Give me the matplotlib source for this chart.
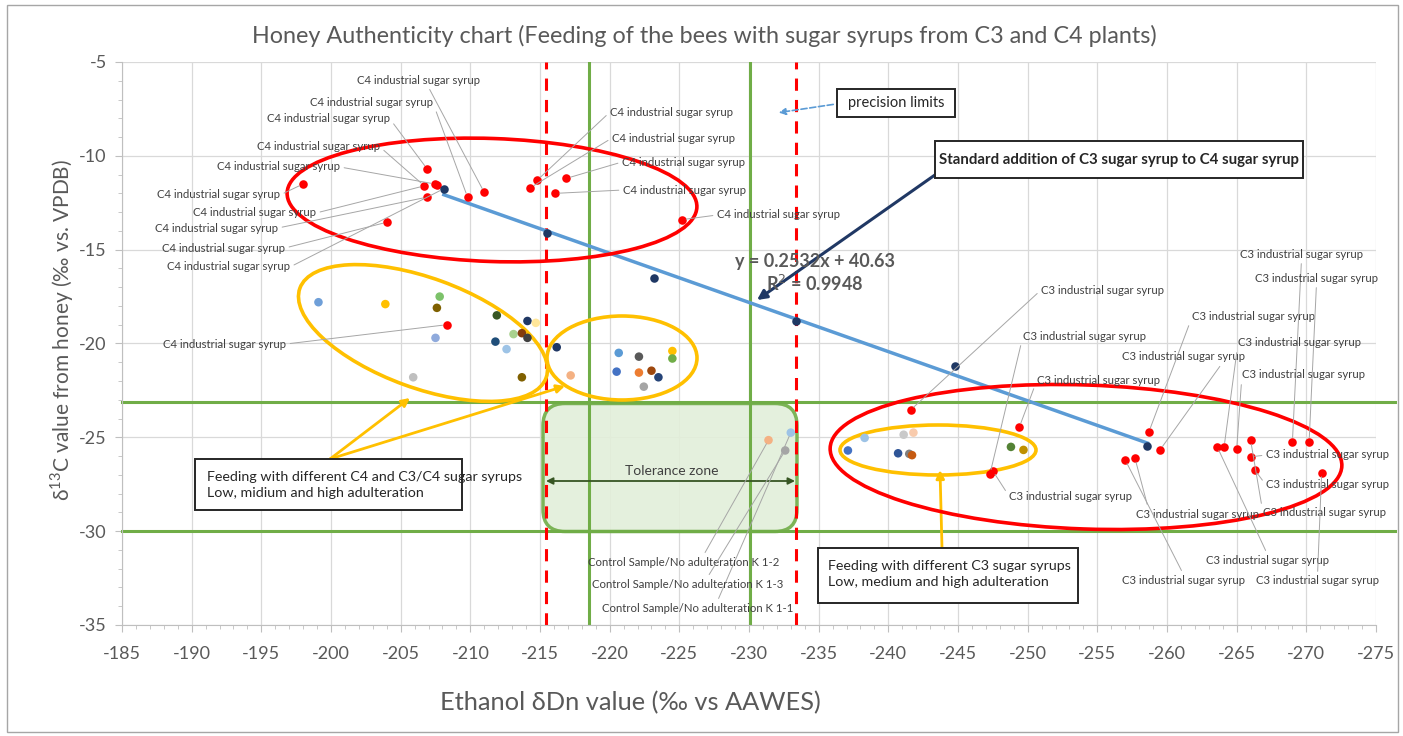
import numpy as np
import matplotlib
matplotlib.use("Agg")
import matplotlib.pyplot as plt
from matplotlib.patches import Ellipse, FancyBboxPatch, Rectangle
from matplotlib import transforms

plt.rcParams['font.family'] = ['Lato', 'DejaVu Sans']
plt.rcParams['axes.unicode_minus'] = False

# ---------------- data ----------------
# C4 industrial sugar syrups (red)
c4_x = [-198.0, -204.0, -206.9, -206.7, -206.9, -207.45, -207.6, -209.8, -211.0,
        -214.3, -214.8, -216.1, -216.9, -225.2, -208.3]
c4_y = [-11.5, -13.54, -10.7, -11.6, -12.2, -11.5, -11.55, -12.2, -11.95,
        -11.7, -11.3, -12.0, -11.2, -13.4, -19.0]

# standard addition series (navy) used for the regression line
std_x = [-208.1, -215.5, -223.2, -233.4, -244.8, -258.6]
std_y = [-11.75, -14.1, -16.5, -18.8, -21.2, -25.46]

# feeding with C4 and C3/C4 syrups (multi-coloured)
mix_x = [-199.1, -203.9, -207.8, -207.6, -207.5, -205.9, -211.9, -214.1, -213.1,
         -213.7, -214.1, -211.8, -212.6, -213.7, -214.7, -216.2, -217.2,
         -220.65, -222.1, -224.5, -224.5, -220.5, -222.1, -223.0, -223.5, -222.45]
mix_y = [-17.8, -17.9, -17.5, -18.1, -19.7, -21.8, -18.5, -18.8, -19.5,
         -19.45, -19.7, -19.9, -20.3, -21.8, -18.9, -20.2, -21.7,
         -20.5, -20.7, -20.4, -20.8, -21.5, -21.55, -21.45, -21.8, -22.3]
mix_colors = ['#6f9fd8', '#ffc000', '#7cc26a', '#7f6000', '#8faadc', '#bfbfbf', '#375623',
              '#203864', '#a9d18e', '#843c0c', '#404040', '#1f4e79', '#9dc3e6', '#806000',
              '#ffe699', '#203864', '#f4b183',
              '#5b9bd5', '#595959', '#ffc000', '#70ad47', '#4472c4', '#ed7d31', '#9e480e',
              '#264478', '#a5a5a5']

# C3 industrial sugar syrups (red)
c3_x = [-241.6, -249.4, -247.3, -247.5, -257.0, -257.7, -258.7, -259.5, -263.6,
        -264.1, -265.0, -266.0, -266.0, -266.3, -269.0, -270.2, -271.1]
c3_y = [-23.54, -24.46, -26.93, -26.79, -26.2, -26.11, -24.71, -25.67, -25.5,
        -25.5, -25.62, -25.15, -26.04, -26.74, -25.23, -25.23, -26.88]

# feeding with C3 syrups (multi-coloured)
c3f_x = [-237.1, -238.3, -241.1, -241.8, -240.7, -241.5, -241.7, -248.8, -249.7]
c3f_y = [-25.7, -25.03, -24.86, -24.75, -25.85, -25.88, -25.95, -25.51, -25.67]
c3f_colors = ['#4472c4', '#9dc3e6', '#c9c9c9', '#f8cbad', '#2f5597', '#7f7f7f',
              '#c55a11', '#548235', '#bf9000']

# control samples
ctrl_x = [-233.0, -231.4, -232.6]
ctrl_y = [-24.75, -25.15, -25.7]
ctrl_names = ['K 1-1', 'K 1-2', 'K 1-3']
ctrl_colors = ['#9dc3e6', '#f4b183', '#a5a5a5']

precision_limits = [-215.4, -233.4]
tolerance_x = [-218.5, -230.1]
tolerance_y = [-23.1, -30.0]

x_ticks = list(range(-185, -276, -5))
y_ticks = list(range(-35, -4, 5))

# ---------------- figure ----------------
W, H, DPI = 1403, 736, 100
fig = plt.figure(figsize=(W / DPI, H / DPI), dpi=DPI)
pix = transforms.Affine2D().scale(1 / DPI) + fig.dpi_scale_trans   # figure pixels (y up)

def P(px, py):
    return (px, H - py)

fig.patches.append(Rectangle((7, 4), 1391, 727, transform=pix, fill=False,
                             edgecolor='#a6a6a6', lw=1.0))

L, R, T, B = 122, 1376, 62, 625
ax = fig.add_axes([L / W, 1 - B / H, (R - L) / W, (B - T) / H])
ax.set_xlim(-185, -275)
ax.set_ylim(-35, -5)
ax.set_xticks(x_ticks)
ax.set_yticks(y_ticks)
ax.set_xticks(np.arange(-185, -276, -1), minor=True)
ax.set_yticks(np.arange(-35, -4, 1), minor=True)
ax.grid(True, which='major', color='#d9d9d9', lw=0.9)
ax.set_axisbelow(True)
for s in ['top', 'right']:
    ax.spines[s].set_visible(False)
for s in ['left', 'bottom']:
    ax.spines[s].set_color('#bfbfbf')
ax.tick_params(which='both', colors='#bfbfbf', labelcolor='#595959', labelsize=13)
ax.tick_params(which='major', length=5)
ax.tick_params(which='minor', length=3)
ax.tick_params(axis='x', pad=10)
ax.tick_params(axis='y', pad=6)

fig.text(*P(704, 36), 'Honey Authenticity chart (Feeding of the bees with sugar syrups from C3 and C4 plants)',
         transform=pix, fontsize=16.8, color='#595959', ha='center', va='center')
fig.text(*P(630, 703), 'Ethanol δDn value (‰ vs AAWES)', transform=pix, fontsize=18.3,
         color='#595959', ha='center', va='center')
fig.text(*P(62, 330), r'δ$^{\mathregular{13}}$C value from honey (‰ vs. VPDB)', transform=pix,
         fontsize=15, color='#595959', ha='center', va='center', rotation=90)

# tolerance zone
tz = FancyBboxPatch(P(543, 531.5), 254, 128, boxstyle='round,pad=0,rounding_size=22',
                    transform=pix, facecolor='#e2efda', edgecolor='#70ad47', lw=2.5,
                    alpha=0.9, zorder=1.5, clip_on=False)
ax.add_patch(tz)

# reference lines
for v in tolerance_x:
    ax.axvline(v, color='#70ad47', lw=2.2, zorder=2)
for v in tolerance_y:
    ax.axhline(v, xmin=0, xmax=1.015, color='#70ad47', lw=2.2, zorder=2, clip_on=False)
for v in precision_limits:
    ax.axvline(v, color='#ff0000', lw=2.2, ls=(0, (4, 3)), zorder=2.2)

# regression line through standard addition points
coef = np.polyfit(std_x, std_y, 1)
xr = np.array([min(std_x), max(std_x)])
ax.plot(xr, np.polyval(coef, xr), color='#5b9bd5', lw=2.5, zorder=3)

# points
ms = 38
ax.scatter(mix_x, mix_y, s=ms, c=mix_colors, zorder=4, linewidths=0)
ax.scatter(c3f_x, c3f_y, s=ms, c=c3f_colors, zorder=4, linewidths=0)
ax.scatter(ctrl_x, ctrl_y, s=ms, c=ctrl_colors, zorder=4, linewidths=0)
ax.scatter(c4_x, c4_y, s=ms, c='#ff0000', zorder=4, linewidths=0)
ax.scatter(c3_x, c3_y, s=ms, c='#ff0000', zorder=4, linewidths=0)
ax.scatter(std_x, std_y, s=ms, c='#1f3864', zorder=5, linewidths=0)

# ellipses (figure pixel geometry)
def ell(cx, cy, w, h, ang, col):
    e = Ellipse(P(cx, cy), w, h, angle=ang, transform=pix, fill=False, edgecolor=col,
                lw=2.6, zorder=3.5, clip_on=False)
    ax.add_patch(e)

ell(492, 200, 410, 123, -2, '#ff0000')
ell(423, 333, 262, 110, -20, '#ffc000')
ell(622, 358, 150, 84, 0, '#ffc000')
ell(938, 450, 196, 50, 0, '#ffc000')
ell(1086, 457, 512, 144, -2, '#ff0000')

# data labels
lab_kw = dict(fontsize=8.2, color='#404040', ha='left', va='center', zorder=6,
              textcoords=pix)

def lead(rel):
    return dict(arrowstyle='-', color='#a6a6a6', lw=0.7, shrinkA=1, shrinkB=3, relpos=rel)

c4_lbl = 'C4 industrial sugar syrup'
c3_lbl = 'C3 industrial sugar syrup'
RGT, LFT, TOP = (1, 0.5), (0, 0.5), (0.5, 1)

c4_labels = [((357, 80), 8, (0.55, 0.5)), ((310, 103), 7, RGT), ((267, 119), 2, RGT),
             ((257, 147), 3, RGT), ((217, 167), 5, RGT), ((157, 195), 0, RGT),
             ((193, 213), 3, RGT), ((155, 228), 4, RGT), ((162, 248), 1, RGT),
             ((167, 267), None, RGT),
             ((610, 112), 10, LFT), ((612, 138), 9, LFT), ((622, 162), 12, LFT),
             ((623, 190), 11, LFT), ((717, 215), 13, LFT), ((163, 344), 14, RGT)]
for (px, py), i, rel in c4_labels:
    if i is None:
        tgt = (std_x[0], std_y[0])
    else:
        tgt = (c4_x[i], c4_y[i])
    ax.annotate(c4_lbl, xy=tgt, xytext=P(px, py), arrowprops=lead(rel), **lab_kw)

c3_labels = [((1041, 290), 0, LFT), ((1023, 336), 2, LFT), ((1037, 380), 1, LFT),
             ((1009, 496), 3, LFT), ((1192, 317), 6, LFT), ((1122, 357), 7, (0.85, 0.5)),
             ((1240, 254), 14, (0.5, 0)), ((1255, 278), 15, (0.5, 0)),
             ((1238, 343), 9, LFT), ((1242, 375), 10, LFT), ((1266, 455), 12, LFT),
             ((1266, 485), 13, LFT), ((1263, 513), 11, LFT), ((1136, 514), 5, (0.1, 1)),
             ((1206, 560), 8, TOP), ((1122, 580), 4, TOP), ((1256, 581), 16, TOP)]
for (px, py), i, rel in c3_labels:
    ax.annotate(c3_lbl, xy=(c3_x[i], c3_y[i]), xytext=P(px, py), arrowprops=lead(rel),
                **lab_kw)

ctrl_pos = {'K 1-2': (588, 562), 'K 1-3': (592, 584), 'K 1-1': (602, 608)}
for n, x, y in zip(ctrl_names, ctrl_x, ctrl_y):
    ax.annotate('Control Sample/No adulteration ' + n, xy=(x, y), xytext=P(*ctrl_pos[n]),
                arrowprops=lead((0.6, 1.0)), **lab_kw)

# text boxes
def rect(x0, y0, x1, y1):
    fig.patches.append(Rectangle(P(x0, y1), x1 - x0, y1 - y0, transform=pix,
                                 facecolor='white', edgecolor='#262626', lw=1.4, zorder=5))

rect(837, 89, 955, 117)
fig.text(*P(896, 103), 'precision limits', transform=pix, fontsize=10.5, color='#262626',
         ha='center', va='center', zorder=6)
ax.annotate('', xy=P(776, 113), xytext=P(836, 104), xycoords=pix, textcoords=pix,
            arrowprops=dict(arrowstyle='-|>', color='#5b9bd5', lw=1.2, ls='--',
                            mutation_scale=10))

rect(935, 141, 1303, 178)
fig.text(*P(1119, 160), 'Standard addition of C3 sugar syrup to C4 sugar syrup', transform=pix,
         fontsize=10.8, fontweight='bold', color='#262626', ha='center', va='center', zorder=6)
ax.annotate('', xy=P(757, 300), xytext=P(942, 170), xycoords=pix, textcoords=pix,
            arrowprops=dict(arrowstyle='-|>', color='#203864', lw=2.2, mutation_scale=14,
                            shrinkA=0, shrinkB=0))
ax.text(*P(815, 261), f'y = {0.2532}x + {40.63}', transform=pix, fontsize=13, fontweight='bold',
        color='#595959', ha='center', va='center', zorder=6)
ax.text(*P(815, 284), 'R$^2$ = 0.9948', transform=pix, fontsize=13, fontweight='bold',
        color='#595959', ha='center', va='center', zorder=6)

rect(195, 459, 462, 510)
fig.text(*P(207, 485), 'Feeding with different C4 and C3/C4 sugar syrups\nLow, midium and high adulteration',
         transform=pix, fontsize=10.3, color='#262626', ha='left', va='center', linespacing=1.45,
         zorder=6)
for end in [(410, 398), (565, 386)]:
    ax.annotate('', xy=P(*end), xytext=P(330, 459), xycoords=pix, textcoords=pix,
                arrowprops=dict(arrowstyle='-|>', color='#ffc000', lw=2, mutation_scale=12,
                                shrinkA=0, shrinkB=0))

rect(818, 548, 1078, 603)
fig.text(*P(828, 574), 'Feeding with different C3 sugar syrups\nLow, medium and high adulteration',
         transform=pix, fontsize=10.3, color='#262626', ha='left', va='center', linespacing=1.45,
         zorder=6)
ax.annotate('', xy=P(940, 470), xytext=P(942, 548), xycoords=pix, textcoords=pix,
            arrowprops=dict(arrowstyle='-|>', color='#ffc000', lw=2, mutation_scale=12,
                            shrinkA=0, shrinkB=0))

ax.text(*P(672, 471), 'Tolerance zone', transform=pix, fontsize=10, color='#404040',
        ha='center', va='center', zorder=6)
ax.annotate('', xy=P(546, 481), xytext=P(795, 481), xycoords=pix, textcoords=pix,
            arrowprops=dict(arrowstyle='<|-|>', color='#375623', lw=1.3, mutation_scale=10,
                            shrinkA=0, shrinkB=0))

fig.savefig('out.png', dpi=DPI)
